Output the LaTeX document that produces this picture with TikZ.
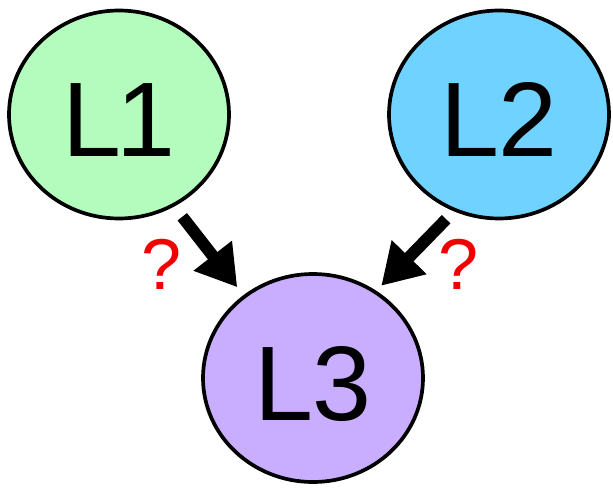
\documentclass[tikz,border=0pt]{standalone}
\usepackage{fontspec}
\setmainfont{Liberation Sans}
\usetikzlibrary{arrows.meta,shapes.geometric}
\definecolor{cgreen}{RGB}{179,252,189}
\definecolor{cblue}{RGB}{112,210,255}
\definecolor{cpurple}{RGB}{201,173,255}
\definecolor{qred}{RGB}{240,0,0}
\tikzset{
  layer/.style={ellipse, draw=black, line width=3.7pt, minimum width=220pt, minimum height=208pt,
    inner sep=0pt, font=\fontsize{106}{106}\selectfont, text height=84pt, text depth=0pt},
  arr/.style={line width=12pt, -{Triangle[length=40pt,width=46pt]}},
  qmark/.style={text=qred, font=\fontsize{72}{72}\selectfont, inner sep=0pt}
}
\begin{document}
\begin{tikzpicture}[x=1pt,y=1pt]
\useasboundingbox (0,0) rectangle (613,488);
\node[layer, fill=cgreen] (L1) at (119,373.5) {L\kern-5pt1};
\node[layer, fill=cblue] (L2) at (499,373.5) {L2};
\node[layer, fill=cpurple] (L3) at (313,110) {L3};
\draw[arr, shorten <=13pt, shorten >=10pt] (L1.-59) -- (L3.130);
\draw[arr, shorten <=11pt, shorten >=7pt] (L2.-115) -- (L3.54);
\node[qmark] (q1) at (161.5,224) {?};
\node[qmark] (q2) at (458.5,224) {?};
\end{tikzpicture}
\end{document}
